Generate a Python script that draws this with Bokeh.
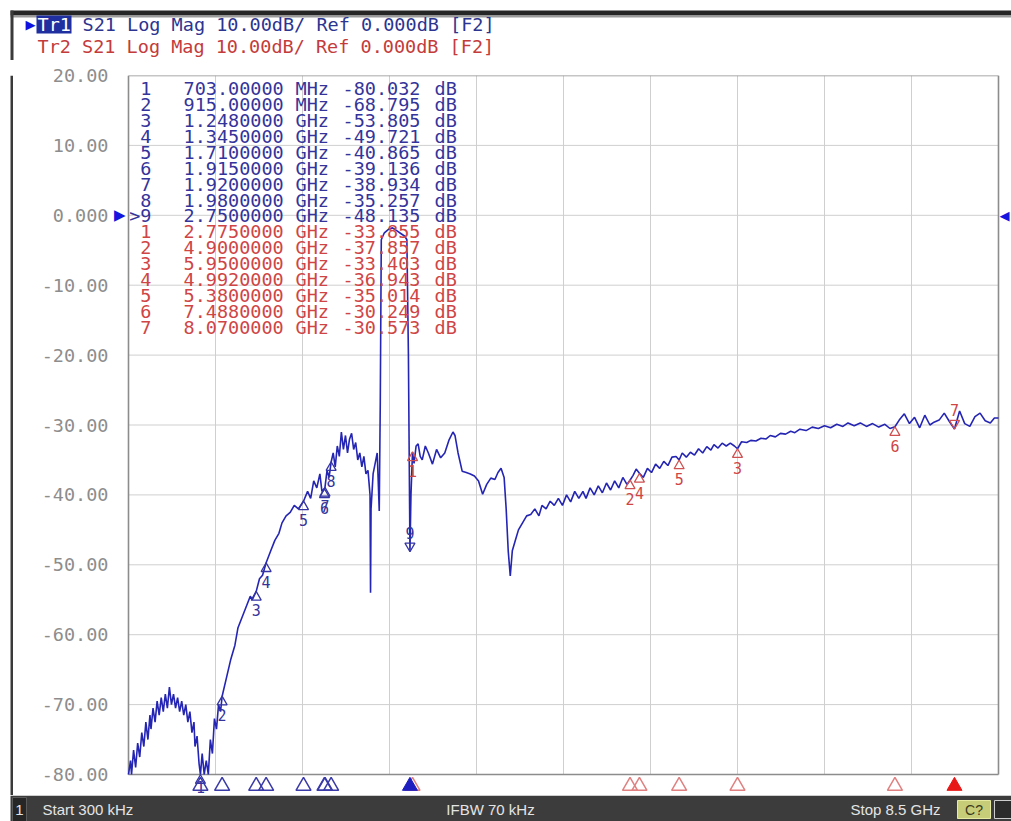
from bokeh.plotting import figure
from bokeh.layouts import column, row
from bokeh.models import Range1d, FixedTicker, LabelSet, ColumnDataSource
from bokeh.core.properties import value
from bokeh.embed import file_html
from bokeh.resources import INLINE

# ---------------- data ----------------
START_GHZ = 0.0003
STOP_GHZ = 8.5
Y_TOP = 20
Y_BOTTOM = -80
y_ticks = [20, 10, 0, -10, -20, -30, -40, -50, -60, -70, -80]
y_tick_labels = ["20.00", "10.00", "0.000", "-10.00", "-20.00", "-30.00",
                 "-40.00", "-50.00", "-60.00", "-70.00", "-80.00"]

seg_lowband = [
    (0.0003, -80), (0.02, -78), (0.03, -80), (0.05, -76.5), (0.07, -79), (0.09, -75.5),
    (0.11, -77.5), (0.13, -74), (0.15, -76), (0.17, -72.5), (0.19, -75), (0.21, -71.5),
    (0.22, -73.5), (0.24, -70.5), (0.26, -72.5), (0.28, -69.5), (0.30, -71.5), (0.32, -69),
    (0.34, -71), (0.36, -68.5), (0.38, -70.5), (0.40, -67.5), (0.42, -70), (0.44, -68.5),
    (0.46, -70.5), (0.48, -69), (0.50, -71), (0.52, -69.5), (0.54, -71.5), (0.56, -70),
    (0.58, -72.5), (0.60, -71), (0.62, -74), (0.64, -72.5), (0.65, -76), (0.67, -74.5),
    (0.69, -78.5), (0.703, -80.03), (0.72, -77), (0.74, -80), (0.76, -78), (0.78, -80),
    (0.80, -75), (0.82, -77), (0.84, -72), (0.86, -73.5), (0.88, -70), (0.90, -71),
]
seg_rise = [
    (0.915, -68.8), (0.96, -66), (1.00, -63.5), (1.04, -61.5), (1.07, -59), (1.11, -57.5),
    (1.15, -56), (1.19, -54.5), (1.21, -55), (1.248, -53.8), (1.28, -52), (1.31, -51.5),
    (1.345, -49.7), (1.39, -48), (1.43, -46.5), (1.47, -45.5), (1.50, -44), (1.54, -43),
    (1.58, -42.5), (1.62, -41.5), (1.66, -42), (1.71, -40.9), (1.75, -39.5), (1.78, -40.5),
    (1.81, -38), (1.84, -39), (1.87, -37), (1.89, -39.5), (1.915, -39.1), (1.92, -38.9),
    (1.94, -36.5), (1.96, -37.5), (1.98, -35.3), (2.00, -34), (2.02, -36), (2.04, -33),
    (2.06, -34.5), (2.08, -31), (2.10, -33.5), (2.12, -31.5), (2.14, -34), (2.16, -32),
    (2.18, -31.2), (2.20, -33.5), (2.22, -32.5), (2.24, -35), (2.26, -34), (2.28, -36),
    (2.30, -34.5), (2.32, -37), (2.34, -36.5), (2.36, -40), (2.365, -54), (2.37, -42),
    (2.39, -37), (2.41, -35.5), (2.43, -34), (2.44, -38), (2.45, -42.3),
]
seg_passband = [
    (2.46, -27), (2.47, -3.5), (2.50, -2.5), (2.54, -2.0), (2.58, -1.8), (2.62, -2.2),
    (2.66, -2.6), (2.70, -3.0), (2.72, -3.5), (2.735, -20), (2.75, -48.1), (2.76, -40),
]
seg_mid = [
    (2.775, -33.9), (2.79, -35.5), (2.81, -33), (2.83, -32.7), (2.85, -34.5), (2.87, -35),
    (2.90, -33), (2.93, -34), (2.97, -35.6), (3.01, -33.5), (3.05, -34.7), (3.09, -34),
    (3.13, -32.2), (3.17, -31), (3.19, -31.5), (3.22, -34), (3.26, -36.6), (3.30, -36.8),
    (3.34, -37), (3.38, -37.3), (3.42, -38), (3.46, -39.9), (3.50, -38.5), (3.54, -37.6),
    (3.58, -37.8), (3.61, -36.8), (3.64, -36.2), (3.67, -37.5), (3.69, -42), (3.71, -48),
    (3.73, -51.6), (3.75, -48), (3.78, -46.5), (3.81, -45), (3.85, -44), (3.89, -43),
    (3.93, -42.8), (3.97, -42), (4.01, -43), (4.04, -41.5), (4.08, -42),
]
seg_high = [
    (4.12, -40.9), (4.16, -41.5), (4.20, -40.5), (4.24, -41.5), (4.28, -40), (4.32, -41),
    (4.36, -39.5), (4.40, -40.5), (4.44, -39.5), (4.47, -40.5), (4.51, -39), (4.55, -40),
    (4.59, -38.7), (4.63, -39.7), (4.67, -38.3), (4.71, -39.3), (4.75, -38), (4.79, -39),
    (4.83, -37.5), (4.87, -38.5), (4.90, -37.9), (4.93, -37.2), (4.96, -36.3), (4.992, -36.9),
    (5.03, -37.5), (5.07, -36.2), (5.11, -36.8), (5.15, -35.6), (5.19, -36.2), (5.23, -35.2),
    (5.27, -35.8), (5.31, -34.6), (5.35, -34.5), (5.38, -35.0), (5.41, -34.0), (5.45, -34.6),
    (5.49, -33.9), (5.53, -34.3), (5.57, -33.4), (5.61, -34.0), (5.65, -33.1), (5.69, -33.6),
    (5.72, -32.8), (5.76, -33.3), (5.80, -32.6), (5.84, -33.0), (5.88, -32.6), (5.92, -33.0),
    (5.95, -33.4), (5.99, -32.4), (6.04, -32.5), (6.08, -32.2), (6.13, -32.3), (6.18, -31.9),
    (6.23, -32.0), (6.27, -31.5), (6.32, -31.7), (6.37, -31.2), (6.42, -31.3), (6.47, -30.9),
    (6.51, -31.1), (6.56, -30.6), (6.62, -30.8), (6.68, -30.3), (6.74, -30.5), (6.80, -30.1),
    (6.86, -30.4), (6.92, -29.9), (6.98, -30.2), (7.03, -29.7), (7.09, -30.1), (7.15, -29.7),
    (7.21, -30.2), (7.27, -29.8), (7.33, -30.3), (7.39, -29.9), (7.44, -30.5), (7.488, -30.25),
    (7.53, -29.3), (7.58, -28.4), (7.63, -29.8), (7.68, -28.9), (7.73, -30.4), (7.78, -28.6),
    (7.83, -30.0), (7.87, -29.6), (7.92, -29.3), (7.97, -28.3), (8.02, -29.5), (8.07, -30.57),
    (8.12, -28.0), (8.17, -29.8), (8.22, -30.2), (8.27, -28.8), (8.32, -28.3), (8.37, -29.4),
    (8.42, -29.7), (8.46, -29.0), (8.50, -29.0),
]

# markers
tr1_marker_ghz = [0.703, 0.915, 1.248, 1.345, 1.71, 1.915, 1.92, 1.98, 2.75]
tr1_marker_db = [-80.032, -68.795, -53.805, -49.721, -40.865, -39.136, -38.934, -35.257, -48.135]
tr1_active = 8
tr2_marker_ghz = [2.775, 4.9, 5.95, 4.992, 5.38, 7.488, 8.07]
tr2_marker_db = [-33.855, -37.857, -33.403, -36.943, -35.014, -30.249, -30.573]
tr2_active = 6

header_tr1 = "S21 Log Mag 10.00dB/ Ref 0.000dB [F2]"
header_tr2 = "Tr2 S21 Log Mag 10.00dB/ Ref 0.000dB [F2]"
status_start = "Start 300 kHz"
status_ifbw = "IFBW 70 kHz"
status_stop = "Stop 8.5 GHz"

# ---------------- layout / style constants ----------------
MONO = "DejaVu Sans Mono"
MONO_SIZE = "18.5px"
BLUE_TXT = "#34349a"
RED_TXT = "#cf4545"
TRACE = "#2525b4"
GRID = "#cfcfcf"
BOX = "#8c8c8c"
WIN_W = 1011
HEAD_H = 60
MAIN_H = 735
STAT_H = 26
STRIP_W = 13
MAIN_W = WIN_W - STRIP_W
BOX_LEFT_PX = 128 - STRIP_W   # plot box left edge inside main fig
BOX_RIGHT_PX = 998 - STRIP_W
FRAME_LEFT_PX = 110 - STRIP_W
FRAME_TOP = 15
FRAME_H = MAIN_H - FRAME_TOP
PX_PER_DB = 6.99
px_per_ghz = (BOX_RIGHT_PX - BOX_LEFT_PX) / (STOP_GHZ - START_GHZ)
x_lo = START_GHZ - (BOX_LEFT_PX - FRAME_LEFT_PX) / px_per_ghz
x_hi = STOP_GHZ + (MAIN_W - BOX_RIGHT_PX) / px_per_ghz
Y_MIN = Y_TOP - FRAME_H / PX_PER_DB

trace = seg_lowband + seg_rise + seg_passband + seg_mid + seg_high
freq = [f for f, _ in trace]
mag = [m for _, m in trace]


def deco_fig(w, h):
    f = figure(width=w, height=h, title=None, x_range=Range1d(0, w), y_range=Range1d(h, 0),
               x_axis_location=None, y_axis_location=None, min_border=0,
               output_backend="svg", toolbar_location=None)
    f.grid.visible = False
    f.outline_line_color = None
    f.background_fill_color = "white"
    f.border_fill_color = "white"
    return f


# ---------------- header ----------------
head = deco_fig(WIN_W, HEAD_H)
head.quad(left=[10], right=[WIN_W], top=[10], bottom=[15], fill_color="#262626", line_color=None)
head.quad(left=[10], right=[WIN_W], top=[15], bottom=[17], fill_color="#9a9a9a", line_color=None)
head.quad(left=[10], right=[13], top=[10], bottom=[HEAD_H], fill_color="#3a3a3a", line_color=None)
head.text([25], [24], text=["\u25B6"], text_align="left", text_baseline="middle",
          text_font=value("DejaVu Sans"), text_font_size="13px", text_color="#1010e0")
head.quad(left=[36], right=[71], top=[15], bottom=[33], fill_color="#1f2f9f", line_color=None)
head.text([37], [24], text=["Tr1"], text_align="left", text_baseline="middle",
          text_font=value(MONO), text_font_size=MONO_SIZE, text_color="white")
head.text([82], [24], text=[header_tr1], text_align="left", text_baseline="middle",
          text_font=value(MONO), text_font_size=MONO_SIZE, text_color="#2c3590")
head.text([37], [46], text=[header_tr2], text_align="left", text_baseline="middle",
          text_font=value(MONO), text_font_size=MONO_SIZE, text_color="#c43b3b")

# ---------------- left window border ----------------
strip = deco_fig(STRIP_W, MAIN_H)
strip.quad(left=[10], right=[13], top=[0], bottom=[MAIN_H], fill_color="#3a3a3a", line_color=None)

# ---------------- main plot ----------------
p = figure(width=MAIN_W, height=MAIN_H, title=None,
           x_range=Range1d(x_lo, x_hi), y_range=Range1d(Y_MIN, Y_TOP),
           x_axis_location=None, output_backend="svg", toolbar_location=None,
           min_border_left=FRAME_LEFT_PX, min_border_right=0,
           min_border_top=FRAME_TOP, min_border_bottom=0)
p.grid.visible = False
p.outline_line_color = None
p.background_fill_color = "white"
p.border_fill_color = "white"

ax = p.yaxis[0]
ax.ticker = FixedTicker(ticks=y_ticks)
ax.major_label_overrides = dict(zip(y_ticks, y_tick_labels))
ax.axis_line_color = None
ax.major_tick_line_color = None
ax.minor_tick_line_color = None
ax.major_tick_out = 0
ax.major_tick_in = 0
ax.major_label_standoff = 2
ax.major_label_text_font = MONO
ax.major_label_text_font_size = MONO_SIZE
ax.major_label_text_color = "#8d8d8d"

# grid and plot box
vx = [START_GHZ + i * (STOP_GHZ - START_GHZ) / 10 for i in range(11)]
inner_x = vx[1:-1]
p.segment(x0=inner_x, y0=[Y_BOTTOM] * len(inner_x), x1=inner_x, y1=[Y_TOP] * len(inner_x),
          line_color=GRID, line_width=1)
inner_y = [t for t in y_ticks if Y_BOTTOM < t < Y_TOP]
p.segment(x0=[START_GHZ] * len(inner_y), y0=inner_y, x1=[STOP_GHZ] * len(inner_y), y1=inner_y,
          line_color=GRID, line_width=1)
p.segment(x0=[START_GHZ, STOP_GHZ, START_GHZ, START_GHZ],
          y0=[Y_BOTTOM, Y_BOTTOM, Y_BOTTOM, Y_TOP],
          x1=[START_GHZ, STOP_GHZ, STOP_GHZ, STOP_GHZ],
          y1=[Y_TOP, Y_TOP, Y_BOTTOM, Y_TOP],
          line_color=BOX, line_width=1.6)

# reference level arrows at 0 dB
p.text([START_GHZ], [0], text=["\u25B6"], x_offset=-3, text_align="right", text_baseline="middle",
       text_font=value("DejaVu Sans"), text_font_size="15px", text_color="#1515e0")
p.text([STOP_GHZ], [0], text=["\u25C0"], x_offset=1, text_align="left", text_baseline="middle",
       text_font=value("DejaVu Sans"), text_font_size="13px", text_color="#1515e0")

# trace
p.line(freq, mag, line_color=TRACE, line_width=1.6)

# markers on trace
TRI = 10
tri_off = 0.577 * TRI / PX_PER_DB


def draw_markers(fs, vs, active, line_col, txt_col):
    idx = [i for i in range(len(fs)) if i != active]
    p.scatter([fs[i] for i in idx], [vs[i] - tri_off for i in idx], marker="triangle", size=TRI,
              fill_color=None, line_color=line_col, line_width=1.3)
    offs = [min(19, (vs[i] - Y_MIN) * PX_PER_DB - 9) for i in idx]
    p.text([fs[i] for i in idx], [vs[i] for i in idx], text=[str(i + 1) for i in idx],
           y_offset=offs, text_align="center", text_baseline="middle",
           text_font=value(MONO), text_font_size="15px", text_color=txt_col)
    p.scatter([fs[active]], [vs[active] + tri_off], marker="inverted_triangle", size=TRI,
              fill_color=None, line_color=line_col, line_width=1.3)
    p.text([fs[active]], [vs[active]], text=[str(active + 1)],
           y_offset=-19, text_align="center", text_baseline="middle",
           text_font=value(MONO), text_font_size="15px", text_color=txt_col)


draw_markers(tr2_marker_ghz, tr2_marker_db, tr2_active, "#cf5050", RED_TXT)
draw_markers(tr1_marker_ghz, tr1_marker_db, tr1_active, "#3535a5", BLUE_TXT)

# bottom marker indicators
BOT_Y = Y_BOTTOM - 11.5 / PX_PER_DB
for fs, active, outline, filled in [(tr2_marker_ghz, tr2_active, "#e08080", "#e81818"),
                                     (tr1_marker_ghz, tr1_active, "#3a3aa8", "#1e1ec0")]:
    idx = [i for i in range(len(fs)) if i != active]
    p.scatter([fs[i] for i in idx], [BOT_Y] * len(idx), marker="triangle", size=15,
              fill_color="white", fill_alpha=0.0, line_color=outline, line_width=1.5)
    p.scatter([fs[active]], [BOT_Y], marker="triangle", size=15,
              fill_color=filled, line_color=filled, line_width=1)

# marker readout table


def fmt_freq(f):
    return (f"{f * 1000:.5f}", "MHz") if f < 1 else (f"{f:.7f}", "GHz")


rows_num, rows_f, rows_u, rows_v, rows_c = [], [], [], [], []
for i, (f, v) in enumerate(zip(tr1_marker_ghz, tr1_marker_db)):
    rows_num.append((">" if i == tr1_active else "") + str(i + 1))
    fs, u = fmt_freq(f)
    rows_f.append(fs); rows_u.append(u); rows_v.append(f"{v:.3f}"); rows_c.append(BLUE_TXT)
for i, (f, v) in enumerate(zip(tr2_marker_ghz, tr2_marker_db)):
    rows_num.append(str(i + 1))
    fs, u = fmt_freq(f)
    rows_f.append(fs); rows_u.append(u); rows_v.append(f"{v:.3f}"); rows_c.append(RED_TXT)
n = len(rows_num)
ROW0 = (FRAME_TOP + FRAME_H) - (88 - HEAD_H)   # screen y of first row (from frame bottom)
rows_y = [ROW0 - 15.93 * i for i in range(n)]
tbl = ColumnDataSource(dict(num=rows_num, f=rows_f, u=rows_u, v=rows_v, db=["dB"] * n,
                            y=rows_y, c=rows_c))
fl = FRAME_LEFT_PX + STRIP_W
for field, xref, align in [("num", 151, "right"), ("f", 183, "left"), ("u", 295, "left"),
                           ("v", 342, "left"), ("db", 434, "left")]:
    p.add_layout(LabelSet(x=xref - fl, y="y", x_units="screen", y_units="screen", text=field,
                          source=tbl, text_align=align, text_baseline="middle",
                          text_font=value(MONO), text_font_size=MONO_SIZE, text_color="c"))

# ---------------- status bar ----------------
stat = deco_fig(WIN_W, STAT_H)
stat.quad(left=[10], right=[WIN_W], top=[0], bottom=[STAT_H], fill_color="#3c3c3c", line_color=None)
stat.quad(left=[12], right=[26], top=[2], bottom=[STAT_H], fill_color="#262626", line_color="#5a5a5a")
stat.quad(left=[957], right=[990], top=[5], bottom=[23], fill_color="#c6cc78", line_color="#e6eaa0")
stat.quad(left=[994], right=[1011], top=[5], bottom=[23], fill_color="#2b2b2b", line_color="#cccccc")
SF = dict(text_baseline="middle", text_font=value("Liberation Sans"), text_font_size="15px",
          text_color="#e4e4e4")
stat.text([19], [14], text=["1"], text_align="center", **SF)
stat.text([42], [14], text=[status_start], text_align="left", **SF)
stat.text([490], [14], text=[status_ifbw], text_align="center", **SF)
stat.text([940], [14], text=[status_stop], text_align="right", **SF)
stat.text([973.5], [14], text=["C?"], text_align="center", text_baseline="middle",
          text_font=value("Liberation Sans"), text_font_size="14px", text_color="#3a3a20")

layout = column(head, row(strip, p), stat)
open("out.html", "w").write(file_html(layout, INLINE))
